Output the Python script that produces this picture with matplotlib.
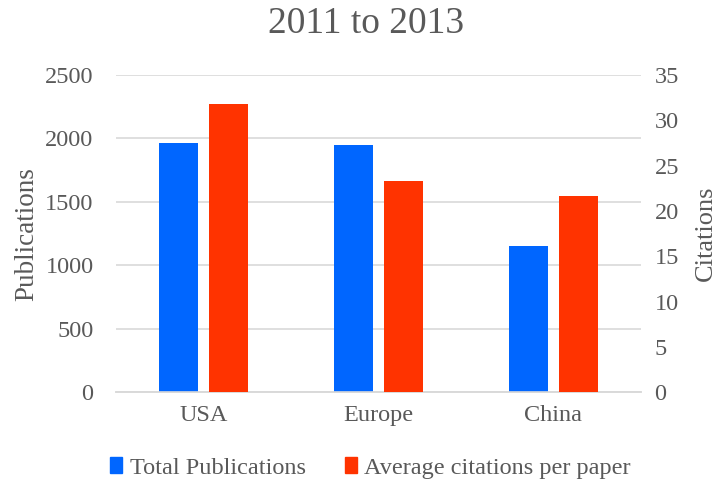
import matplotlib
matplotlib.use("Agg")
import matplotlib.pyplot as plt
import numpy as np
from matplotlib.patches import Patch

plt.rcParams["font.family"] = ["Liberation Serif", "DejaVu Serif"]

regions = ["USA", "Europe", "China"]
publications = [1961, 1947, 1153]
citations = [31.8, 23.3, 21.7]

TEXT = "#595959"
GRID = "#d9d9d9"
BLUE = "#0066FF"
RED = "#FF3300"

fig = plt.figure(figsize=(7.22, 4.88), dpi=100)
ax = fig.add_axes([0.1603, 0.1961, 0.7271, 0.6502])
ax2 = ax.twinx()

x = np.arange(len(regions))
width = 0.223
offset = 0.143
ax.bar(x - offset, publications, width, color=BLUE, zorder=3)
ax2.bar(x + offset, citations, width, color=RED, zorder=3)

ax.set_xlim(-0.5, len(regions) - 0.5)
ax.set_ylim(0, 2500)
ax2.set_ylim(0, 35)
ax.set_yticks(np.arange(0, 2501, 500))
ax2.set_yticks(np.arange(0, 36, 5))
ax.set_xticks(x)
ax.set_xticklabels(regions)

ax.yaxis.grid(True, color=GRID, linewidth=1.2, zorder=0)
ax.set_axisbelow(True)
for a in (ax, ax2):
    for side in ("top", "left", "right"):
        a.spines[side].set_visible(False)
    a.spines["bottom"].set_color(GRID)
    a.spines["bottom"].set_linewidth(1.2)
    a.tick_params(length=0, labelsize=17.5, labelcolor=TEXT)
ax.tick_params(axis="y", pad=16)
ax.tick_params(axis="x", pad=9)
ax2.tick_params(axis="y", pad=10)

ax.set_ylabel("Publications", fontsize=19.5, color=TEXT)
ax.yaxis.set_label_coords(-0.146, 0.5)
ax2.set_ylabel("Citations", fontsize=19, color=TEXT)
ax2.yaxis.set_label_coords(1.104, 0.5)
fig.text(0.507, 0.952, "2011 to 2013", fontsize=27, color=TEXT,
         ha="center", va="center")

handles = [Patch(color=BLUE), Patch(color=RED)]
fig.legend(handles, ["Total Publications", "Average citations per paper"],
           loc="center", bbox_to_anchor=(0.513, 0.041), ncol=2,
           frameon=False, fontsize=17.5, labelcolor=TEXT,
           handlelength=0.5, handleheight=0.6, handletextpad=0.3,
           columnspacing=1.6)

fig.savefig("out.png", dpi=100)
